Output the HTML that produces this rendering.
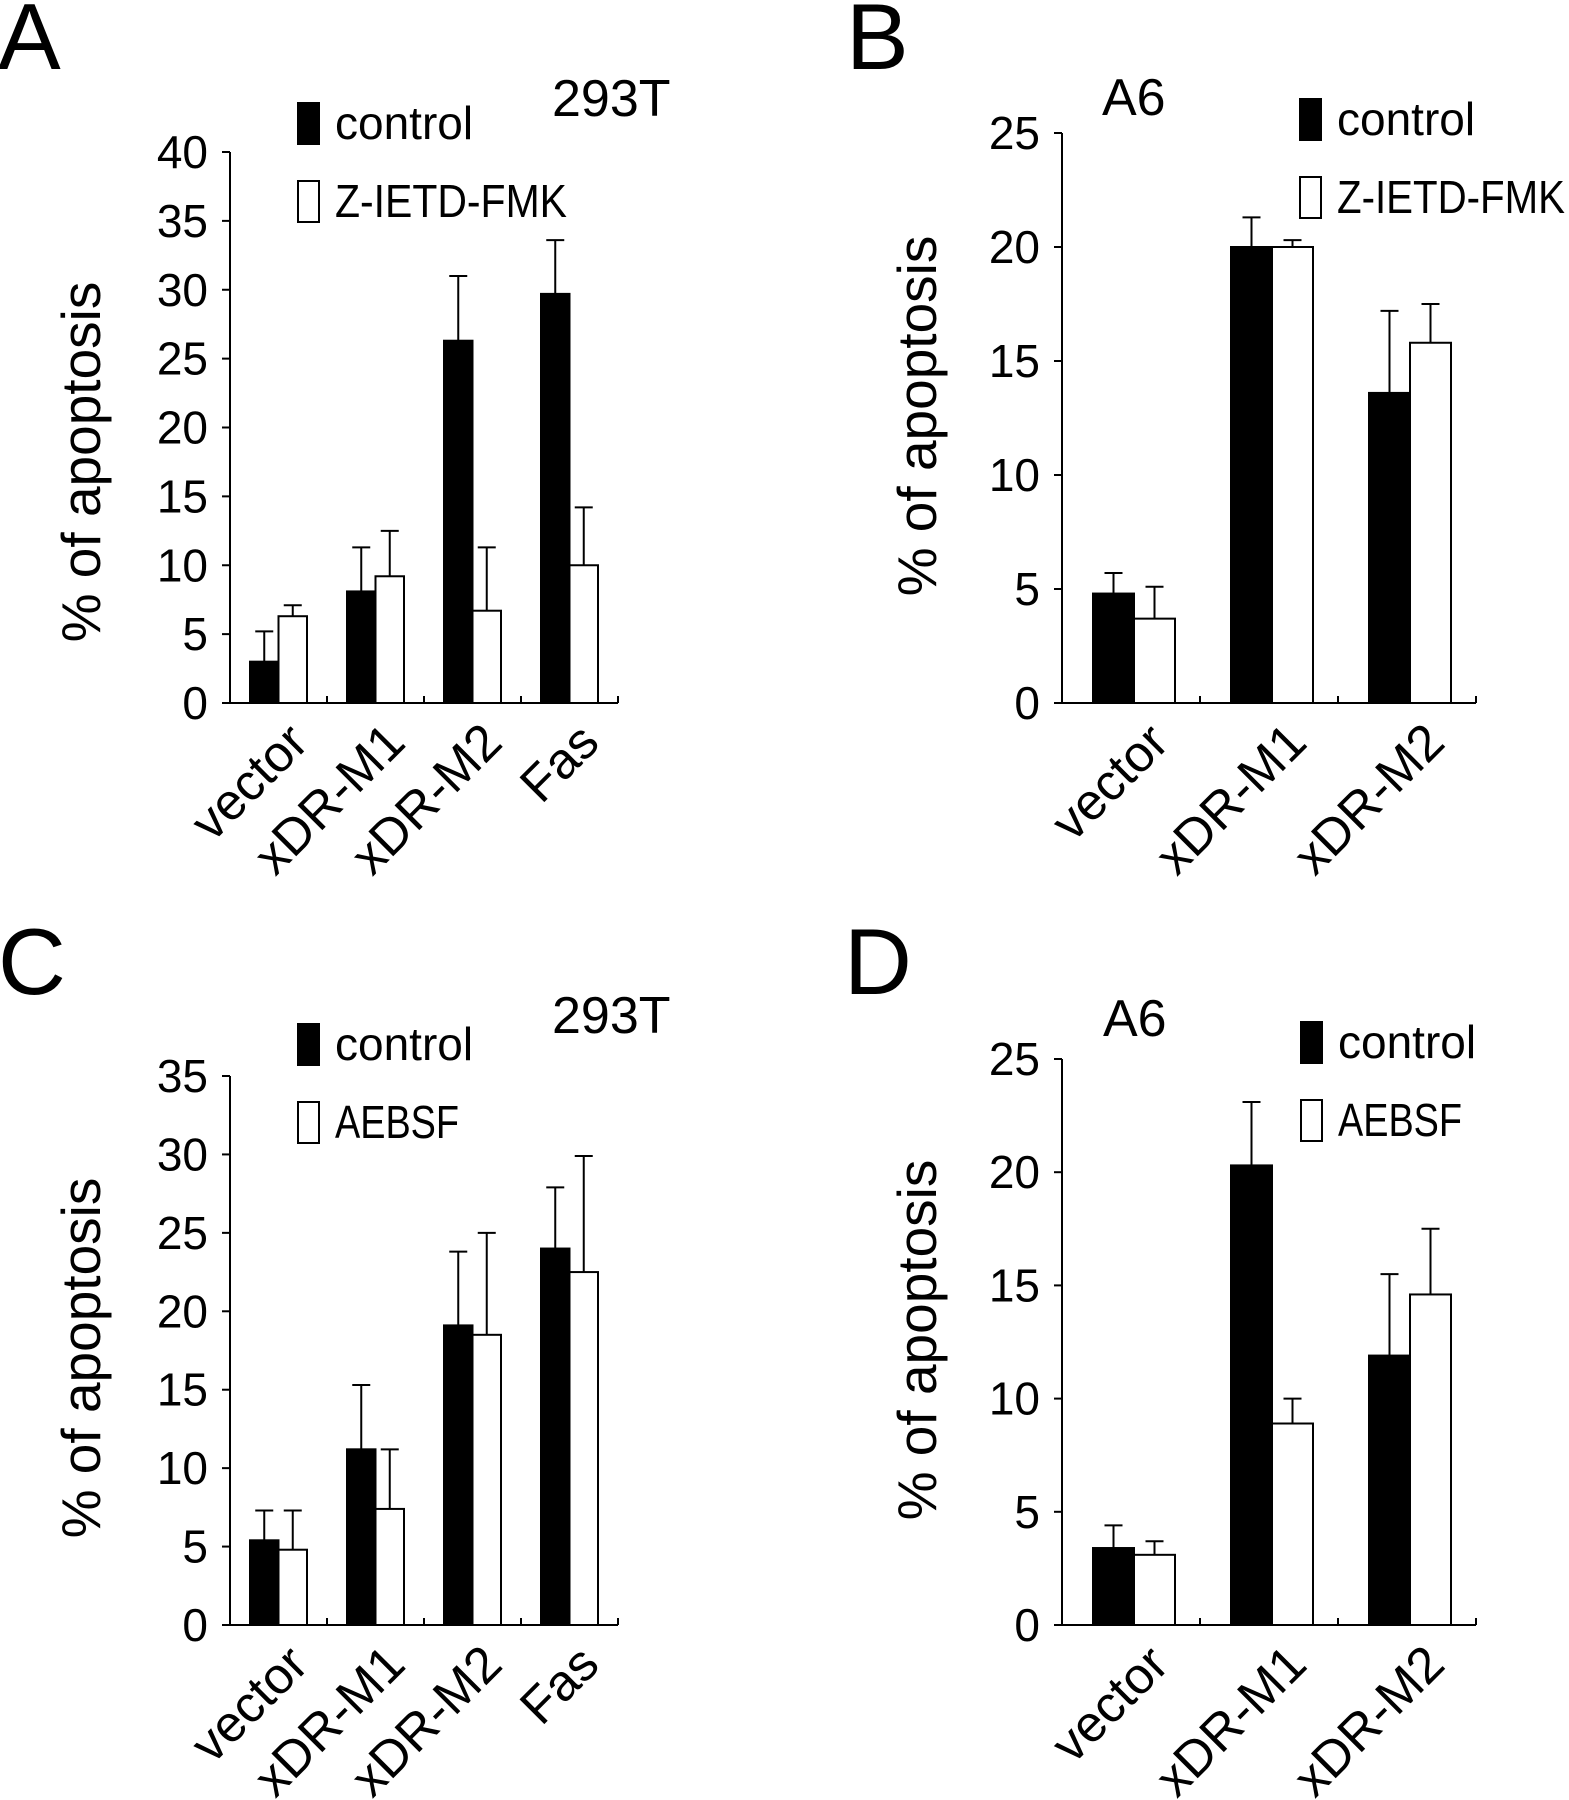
<!DOCTYPE html>
<html><head><meta charset="utf-8"><style>
body{margin:0;background:#fff;}
svg{display:block;font-family:"Liberation Sans","DejaVu Sans",sans-serif;}
</style></head><body>
<svg id="fig" width="1569" height="1800" viewBox="0 0 1569 1800" xmlns="http://www.w3.org/2000/svg"></svg>
<script>
const catsAC = ["vector","xDR-M1","xDR-M2","Fas"];
const catsBD = ["vector","xDR-M1","xDR-M2"];
const aCtrl = [3.0, 8.1, 26.3, 29.7];
const aCtrlTop = [5.2, 11.3, 31.0, 33.6];
const aTrt = [6.3, 9.2, 6.7, 10.0];
const aTrtTop = [7.1, 12.5, 11.3, 14.2];
const bCtrl = [4.8, 20.0, 13.6];
const bCtrlTop = [5.7, 21.3, 17.2];
const bTrt = [3.7, 20.0, 15.8];
const bTrtTop = [5.1, 20.3, 17.5];
const cCtrl = [5.4, 11.2, 19.1, 24.0];
const cCtrlTop = [7.3, 15.3, 23.8, 27.9];
const cTrt = [4.8, 7.4, 18.5, 22.5];
const cTrtTop = [7.3, 11.2, 25.0, 29.9];
const dCtrl = [3.4, 20.3, 11.9];
const dCtrlTop = [4.4, 23.1, 15.5];
const dTrt = [3.1, 8.9, 14.6];
const dTrtTop = [3.7, 10.0, 17.5];
const ticksA = [0,5,10,15,20,25,30,35,40];
const ticksB = [0,5,10,15,20,25];
const ticksC = [0,5,10,15,20,25,30,35];

const NS = "http://www.w3.org/2000/svg";
const svg = document.getElementById("fig");
function mk(tag, attrs, parent){
  const e = document.createElementNS(NS, tag);
  for (const k in attrs) e.setAttribute(k, attrs[k]);
  (parent||svg).appendChild(e);
  return e;
}
function panel(p){
  const g = mk("g", {});
  
  
  const ymax = p.ticks[p.ticks.length-1];
  const y = v => p.zero - (p.zero - p.top) * v / ymax;
  const n = p.cats.length;
  const x1 = p.x0 + n * p.gw;
  const lbl = mk("text", {x:p.lx, y:p.ly, "font-size":94}, g); lbl.textContent = p.id;
  
  
  const t = mk("text", {x:p.tx, y:p.ty, "font-size":52}, g); t.textContent = p.title;
  
  
  const ya = mk("line", {x1:p.x0, y1:p.top, x2:p.x0, y2:p.zero, stroke:"#000", "stroke-width":2}, g);
  
  
  const xa = mk("line", {x1:p.x0, y1:p.zero, x2:x1, y2:p.zero, stroke:"#000", "stroke-width":2}, g);
  
  
  p.ticks.forEach(v => {
    mk("line", {x1:p.x0-8, y1:y(v), x2:p.x0, y2:y(v), stroke:"#000", "stroke-width":2}, g);
    const tl = mk("text", {x:p.x0-22, y:y(v)+16, "font-size":46, "text-anchor":"end"}, g);
    tl.textContent = v;
    
    
  });
  for (let i=1;i<=n;i++) mk("line", {x1:p.x0+i*p.gw, y1:p.zero, x2:p.x0+i*p.gw, y2:p.zero-7, stroke:"#000", "stroke-width":2}, g);
  const yt = mk("text", {x:0, y:0, "font-size":55, "text-anchor":"middle", transform:`translate(${p.ytx},${p.yty}) rotate(-90)`}, g);
  yt.textContent = "% of apoptosis";
  
  
  for (let i=0;i<n;i++){
    const gx = p.x0 + i*p.gw + p.off;
    [[p.ctrl,p.ctrlTop,"#000",0],[p.trt,p.trtTop,"#fff",1]].forEach(([vals,tops,fill,k]) => {
      const bx = gx + k*p.bw;
      const cx = bx + p.bw/2;
      mk("line", {x1:cx, y1:y(vals[i]), x2:cx, y2:y(tops[i]), stroke:"#000", "stroke-width":2}, g);
      mk("line", {x1:cx-9, y1:y(tops[i]), x2:cx+9, y2:y(tops[i]), stroke:"#000", "stroke-width":2}, g);
      const r = mk("rect", {x:bx, y:y(vals[i]), width:p.bw, height:p.zero-y(vals[i]), fill:fill, stroke:"#000", "stroke-width":2}, g);
      
      
    });
    const cxg = p.x0 + i*p.gw + p.gw/2;
    const cl = mk("text", {x:0, y:0, "font-size":51, "text-anchor":"end", transform:`translate(${cxg+p.lox},${p.zero+42}) rotate(-45)`}, g);
    cl.textContent = p.cats[i];
    
    
  }
  const l1 = mk("rect", {x:p.legx, y:p.legy, width:21, height:41, fill:"#000", stroke:"#000", "stroke-width":2}, g);
  
  
  const lt1 = mk("text", {x:p.legx+37, y:p.legy+36, "font-size":46}, g); lt1.textContent = "control";
  
  
  const l2 = mk("rect", {x:p.legx, y:p.legy+78, width:21, height:41, fill:"#fff", stroke:"#000", "stroke-width":2}, g);
  
  
  const lt2 = mk("text", {x:p.legx+37, y:p.legy+114, "font-size":46, textLength:p.trtLen, lengthAdjust:"spacingAndGlyphs"}, g); lt2.textContent = p.trtName;
  
  
}
panel({id:"A", title:"293T", tx:552, ty:116, lx:-2, ly:69, cats:catsAC, ticks:ticksA, x0:230, gw:97, off:20, bw:28.5, top:152, zero:703, lox:32,
  ctrl:aCtrl, ctrlTop:aCtrlTop, trt:aTrt, trtTop:aTrtTop, trtName:"Z-IETD-FMK", trtLen:232, legx:298, legy:103, ytx:100, yty:462});
panel({id:"B", title:"A6", tx:1102, ty:115, lx:846, ly:69, cats:catsBD, ticks:ticksB, x0:1062, gw:138, off:31, bw:41, top:133, zero:703, lox:40,
  ctrl:bCtrl, ctrlTop:bCtrlTop, trt:bTrt, trtTop:bTrtTop, trtName:"Z-IETD-FMK", trtLen:228, legx:1300, legy:99, ytx:936, yty:416});
panel({id:"C", title:"293T", tx:552, ty:1033, lx:-2, ly:994, cats:catsAC, ticks:ticksC, x0:230, gw:97, off:20, bw:28.5, top:1076, zero:1625, lox:32,
  ctrl:cCtrl, ctrlTop:cCtrlTop, trt:cTrt, trtTop:cTrtTop, trtName:"AEBSF", trtLen:124, legx:298, legy:1024, ytx:100, yty:1358});
panel({id:"D", title:"A6", tx:1103, ty:1036, lx:844, ly:994, cats:catsBD, ticks:ticksB, x0:1062, gw:138, off:31, bw:41, top:1059, zero:1625, lox:40,
  ctrl:dCtrl, ctrlTop:dCtrlTop, trt:dTrt, trtTop:dTrtTop, trtName:"AEBSF", trtLen:124, legx:1301, legy:1022, ytx:936, yty:1340});
</script>
</body></html>
